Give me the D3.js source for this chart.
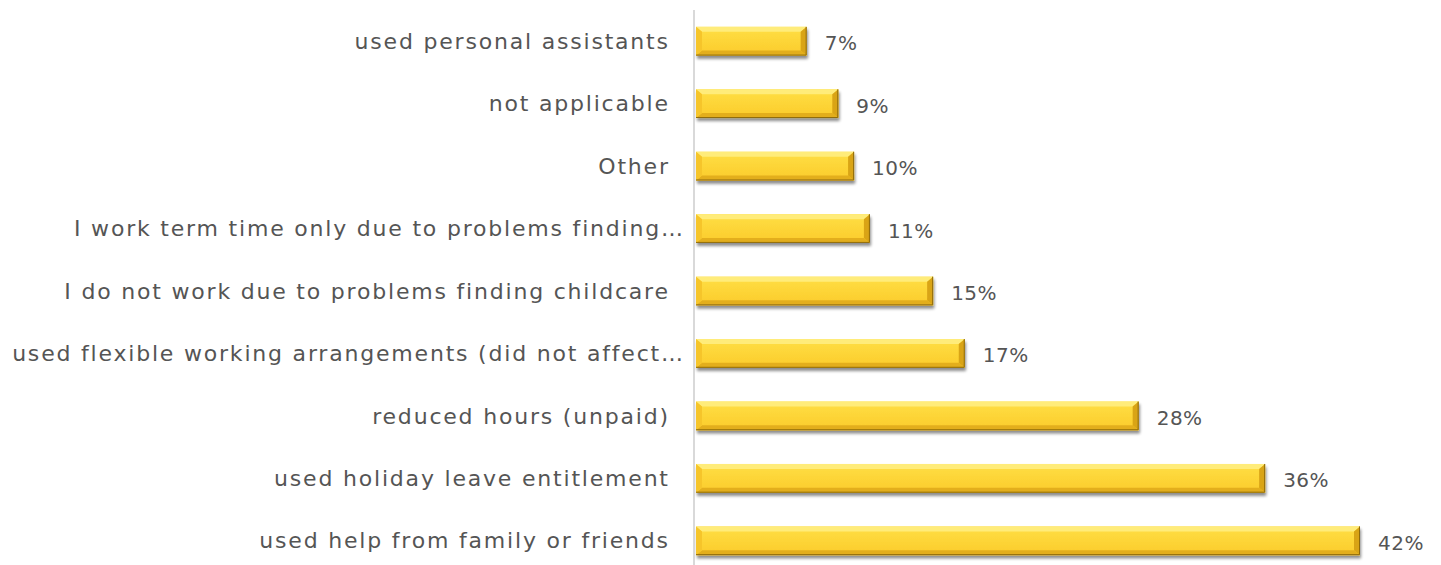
<!DOCTYPE html>
<html>
<head>
<meta charset="utf-8">
<script src="https://cdn.jsdelivr.net/npm/d3@7/dist/d3.min.js"></script>
<style>
  html, body { margin: 0; padding: 0; background: #fff; }
  svg { display: block; }
  text { font-family: "DejaVu Sans", "Noto Sans", sans-serif; fill: #555555; }
</style>
</head>
<body>
<svg id="chart" width="1441" height="565"></svg>
<script>
// Categories, top to bottom
const categories = [
  "used personal assistants",
  "not applicable",
  "Other",
  "I work term time only due to problems finding…",
  "I do not work due to problems finding childcare",
  "used flexible working arrangements (did not affect…",
  "reduced hours (unpaid)",
  "used holiday leave entitlement",
  "used help from family or friends"
];
// Share of respondents (%)
const values = [7, 9, 10, 11, 15, 17, 28, 36, 42];
const valueLabels = ["7%", "9%", "10%", "11%", "15%", "17%", "28%", "36%", "42%"];

const svg = d3.select("#chart");
const x0 = 696;
const x = d3.scaleLinear().domain([0, 42]).range([x0, 1360]);
const y = d3.scaleBand().domain(categories).range([10, 572]).paddingInner(0.54).paddingOuter(0.27);

const defs = svg.append("defs");
const f = defs.append("filter").attr("id", "shadow").attr("x", "-5%").attr("y", "-30%").attr("width", "110%").attr("height", "170%");
f.append("feGaussianBlur").attr("in", "SourceAlpha").attr("stdDeviation", 1.6).attr("result", "b");
f.append("feOffset").attr("in", "b").attr("dx", 1).attr("dy", 2.5).attr("result", "o");
f.append("feComponentTransfer").attr("in", "o").attr("result", "s")
  .append("feFuncA").attr("type", "linear").attr("slope", 0.45);
const m = f.append("feMerge");
m.append("feMergeNode").attr("in", "s");
m.append("feMergeNode").attr("in", "SourceGraphic");

const g = defs.append("linearGradient").attr("id", "face").attr("x1", 0).attr("y1", 0).attr("x2", 0).attr("y2", 1);
g.append("stop").attr("offset", "0%").attr("stop-color", "#FFDF45");
g.append("stop").attr("offset", "100%").attr("stop-color", "#FBCB2A");

// Axis line
svg.append("line")
  .attr("x1", x0 - 2).attr("x2", x0 - 2)
  .attr("y1", 10).attr("y2", 565)
  .attr("stroke", "#d9d9d9").attr("stroke-width", 2);

const bw = 6, bh = 5;
const bars = svg.append("g").selectAll("g").data(categories).join("g")
  .attr("filter", "url(#shadow)");

bars.each(function(c, i) {
  const gEl = d3.select(this);
  const xl = x(0), xr = x(values[i]);
  const yt = y(c), yb = y(c) + y.bandwidth();
  // base face
  gEl.append("rect").attr("x", xl).attr("y", yt).attr("width", xr - xl).attr("height", yb - yt)
    .attr("fill", "url(#face)");
  // top bevel
  gEl.append("polygon").attr("points", [[xl, yt], [xr, yt], [xr - bw, yt + bh], [xl + bw, yt + bh]].join(" "))
    .attr("fill", "#FFEC7A");
  // bottom bevel
  gEl.append("polygon").attr("points", [[xl, yb], [xr, yb], [xr - bw, yb - bh], [xl + bw, yb - bh]].join(" "))
    .attr("fill", "#E3AE1C");
  // left bevel
  gEl.append("polygon").attr("points", [[xl, yt], [xl + bw, yt + bh], [xl + bw, yb - bh], [xl, yb]].join(" "))
    .attr("fill", "#F6C52A");
  // right bevel
  gEl.append("polygon").attr("points", [[xr, yt], [xr - bw, yt + bh], [xr - bw, yb - bh], [xr, yb]].join(" "))
    .attr("fill", "#D9A417");
  // dark outline edge on bottom & right
  gEl.append("polyline").attr("points", [[xl, yb - 0.5], [xr - 0.5, yb - 0.5], [xr - 0.5, yt]].join(" "))
    .attr("fill", "none").attr("stroke", "#8E6B0E").attr("stroke-width", 1);
});

// Category labels; truncated ones run a little further right (no trailing gap)
const ls = 1.8;
svg.append("g").selectAll("text").data(categories).join("text")
  .attr("x", d => (d.endsWith("…") ? 683 : 668) + ls)
  .attr("y", d => y(d) + y.bandwidth() / 2)
  .attr("dy", "0.35em")
  .attr("text-anchor", "end")
  .attr("font-size", 22)
  .attr("letter-spacing", ls)
  .text(d => d);

// Value labels
svg.append("g").selectAll("text").data(categories).join("text")
  .attr("x", (d, i) => x(values[i]) + 18)
  .attr("y", d => y(d) + y.bandwidth() / 2 + 2)
  .attr("dy", "0.35em")
  .attr("font-size", 20)
  .attr("letter-spacing", 0.5)
  .text((d, i) => valueLabels[i]);
</script>
</body>
</html>
